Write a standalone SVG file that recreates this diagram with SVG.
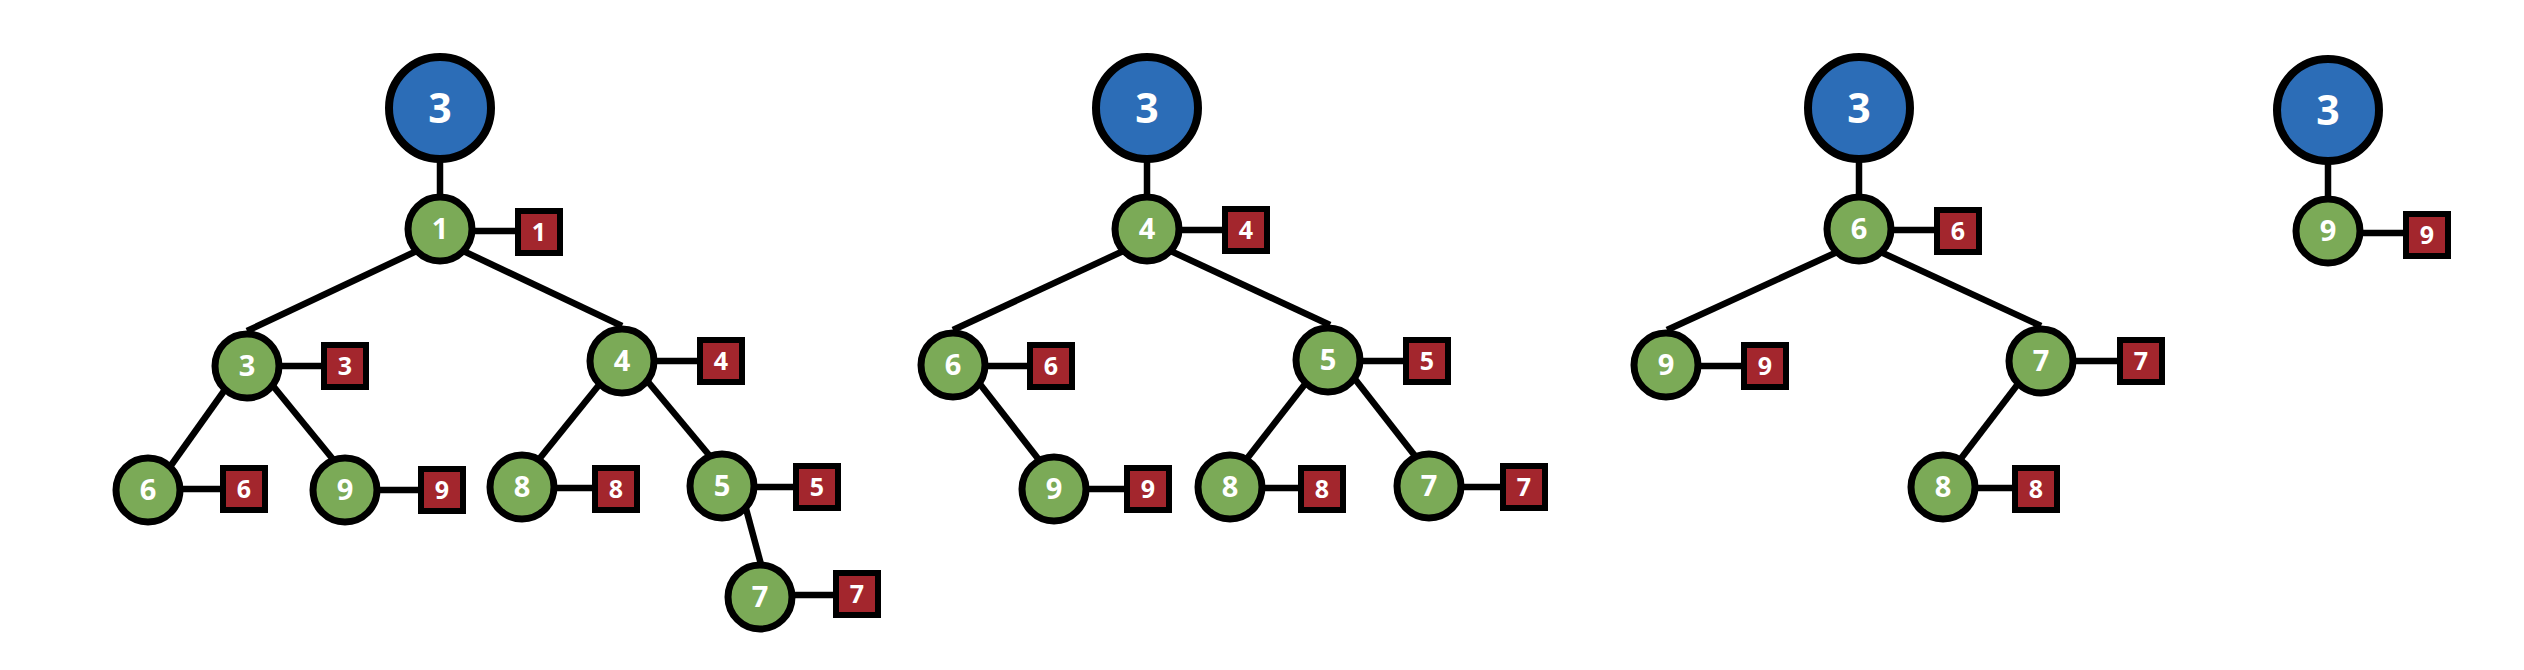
<svg xmlns="http://www.w3.org/2000/svg" width="2524" height="670" viewBox="0 0 2524 670">
<style>
.edge{stroke:#000;stroke-width:6.5;fill:none}
.root circle{fill:#2C6DB7;stroke:#000;stroke-width:8}
.node circle{fill:#7BAA57;stroke:#000;stroke-width:7}
.node rect{fill:#A3262D;stroke:#000;stroke-width:6}
text{font-family:"Open Sans","DejaVu Sans",sans-serif;font-weight:700;fill:#fff;text-anchor:middle}
.rt{font-size:41px}
.ct{font-size:29px}
.st{font-size:25px}
</style>
<rect width="2524" height="670" fill="#fff"/>
<g id="connectors">
<!-- tree 1 -->
<line class="edge" x1="440" y1="108" x2="440" y2="229"/>
<line class="edge" x1="440" y1="240" x2="247" y2="331"/>
<line class="edge" x1="440" y1="240" x2="622" y2="326"/>
<line class="edge" x1="229" y1="384" x2="167" y2="471"/>
<line class="edge" x1="269" y1="381" x2="336" y2="463"/>
<line class="edge" x1="603" y1="380" x2="536" y2="463"/>
<line class="edge" x1="644" y1="377" x2="714" y2="461"/>
<line class="edge" x1="745" y1="505" x2="762" y2="568"/>
<line class="edge" x1="440" y1="231" x2="539" y2="231"/>
<line class="edge" x1="247" y1="366" x2="345" y2="366"/>
<line class="edge" x1="622" y1="361" x2="721" y2="361"/>
<line class="edge" x1="148" y1="489" x2="244" y2="489"/>
<line class="edge" x1="345" y1="490" x2="442" y2="490"/>
<line class="edge" x1="522" y1="488" x2="616" y2="488"/>
<line class="edge" x1="722" y1="487" x2="817" y2="487"/>
<line class="edge" x1="760" y1="595" x2="857" y2="595"/>
<!-- tree 2 -->
<line class="edge" x1="1147" y1="108" x2="1147" y2="229"/>
<line class="edge" x1="1147" y1="240" x2="953" y2="330"/>
<line class="edge" x1="1147" y1="240" x2="1330" y2="325"/>
<line class="edge" x1="976" y1="379" x2="1043" y2="465"/>
<line class="edge" x1="1309" y1="379" x2="1242" y2="465"/>
<line class="edge" x1="1351" y1="374" x2="1419" y2="461"/>
<line class="edge" x1="1147" y1="230" x2="1246" y2="230"/>
<line class="edge" x1="953" y1="366" x2="1051" y2="366"/>
<line class="edge" x1="1328" y1="361" x2="1427" y2="361"/>
<line class="edge" x1="1054" y1="489" x2="1148" y2="489"/>
<line class="edge" x1="1230" y1="488" x2="1322" y2="488"/>
<line class="edge" x1="1429" y1="487" x2="1524" y2="487"/>
<!-- tree 3 -->
<line class="edge" x1="1859" y1="108" x2="1859" y2="229"/>
<line class="edge" x1="1859" y1="242" x2="1667" y2="330"/>
<line class="edge" x1="1859" y1="242" x2="2041" y2="326"/>
<line class="edge" x1="2021" y1="380" x2="1956" y2="465"/>
<line class="edge" x1="1859" y1="230" x2="1958" y2="230"/>
<line class="edge" x1="1666" y1="366" x2="1765" y2="366"/>
<line class="edge" x1="2041" y1="361" x2="2141" y2="361"/>
<line class="edge" x1="1943" y1="488" x2="2036" y2="488"/>
<!-- tree 4 -->
<line class="edge" x1="2328" y1="109" x2="2328" y2="231"/>
<line class="edge" x1="2328" y1="233" x2="2427" y2="233"/>
</g>

<!-- tree 1 -->
<g id="t1-root" class="root"><circle cx="440" cy="108" r="51"/><text class="rt" x="440" y="123">3</text></g>
<g id="t1-n1" class="node"><circle cx="440" cy="229" r="32"/><text class="ct" x="440" y="239">1</text><rect x="518" y="211" width="42" height="42"/><text class="st" x="539" y="241">1</text></g>
<g id="t1-n3" class="node"><circle cx="247" cy="366" r="32"/><text class="ct" x="247" y="376">3</text><rect x="324" y="345" width="42" height="42"/><text class="st" x="345" y="375">3</text></g>
<g id="t1-n4" class="node"><circle cx="622" cy="361" r="32"/><text class="ct" x="622" y="371">4</text><rect x="700" y="340" width="42" height="42"/><text class="st" x="721" y="370">4</text></g>
<g id="t1-n6" class="node"><circle cx="148" cy="490" r="32"/><text class="ct" x="148" y="500">6</text><rect x="223" y="468" width="42" height="42"/><text class="st" x="244" y="498">6</text></g>
<g id="t1-n9" class="node"><circle cx="345" cy="490" r="32"/><text class="ct" x="345" y="500">9</text><rect x="421" y="469" width="42" height="42"/><text class="st" x="442" y="499">9</text></g>
<g id="t1-n8" class="node"><circle cx="522" cy="487" r="32"/><text class="ct" x="522" y="497">8</text><rect x="595" y="468" width="42" height="42"/><text class="st" x="616" y="498">8</text></g>
<g id="t1-n5" class="node"><circle cx="722" cy="486" r="32"/><text class="ct" x="722" y="496">5</text><rect x="796" y="466" width="42" height="42"/><text class="st" x="817" y="496">5</text></g>
<g id="t1-n7" class="node"><circle cx="760" cy="597" r="32"/><text class="ct" x="760" y="607">7</text><rect x="836" y="573" width="42" height="42"/><text class="st" x="857" y="603">7</text></g>

<!-- tree 2 -->
<g id="t2-root" class="root"><circle cx="1147" cy="108" r="51"/><text class="rt" x="1147" y="123">3</text></g>
<g id="t2-n4" class="node"><circle cx="1147" cy="229" r="32"/><text class="ct" x="1147" y="239">4</text><rect x="1225" y="209" width="42" height="42"/><text class="st" x="1246" y="239">4</text></g>
<g id="t2-n6" class="node"><circle cx="953" cy="365" r="32"/><text class="ct" x="953" y="375">6</text><rect x="1030" y="345" width="42" height="42"/><text class="st" x="1051" y="375">6</text></g>
<g id="t2-n5" class="node"><circle cx="1328" cy="360" r="32"/><text class="ct" x="1328" y="370">5</text><rect x="1406" y="340" width="42" height="42"/><text class="st" x="1427" y="370">5</text></g>
<g id="t2-n9" class="node"><circle cx="1054" cy="489" r="32"/><text class="ct" x="1054" y="499">9</text><rect x="1127" y="468" width="42" height="42"/><text class="st" x="1148" y="498">9</text></g>
<g id="t2-n8" class="node"><circle cx="1230" cy="487" r="32"/><text class="ct" x="1230" y="497">8</text><rect x="1301" y="468" width="42" height="42"/><text class="st" x="1322" y="498">8</text></g>
<g id="t2-n7" class="node"><circle cx="1429" cy="486" r="32"/><text class="ct" x="1429" y="496">7</text><rect x="1503" y="466" width="42" height="42"/><text class="st" x="1524" y="496">7</text></g>

<!-- tree 3 -->
<g id="t3-root" class="root"><circle cx="1859" cy="108" r="51"/><text class="rt" x="1859" y="123">3</text></g>
<g id="t3-n6" class="node"><circle cx="1859" cy="229" r="32"/><text class="ct" x="1859" y="239">6</text><rect x="1937" y="210" width="42" height="42"/><text class="st" x="1958" y="240">6</text></g>
<g id="t3-n9" class="node"><circle cx="1666" cy="365" r="32"/><text class="ct" x="1666" y="375">9</text><rect x="1744" y="345" width="42" height="42"/><text class="st" x="1765" y="375">9</text></g>
<g id="t3-n7" class="node"><circle cx="2041" cy="361" r="32"/><text class="ct" x="2041" y="371">7</text><rect x="2120" y="340" width="42" height="42"/><text class="st" x="2141" y="370">7</text></g>
<g id="t3-n8" class="node"><circle cx="1943" cy="487" r="32"/><text class="ct" x="1943" y="497">8</text><rect x="2015" y="468" width="42" height="42"/><text class="st" x="2036" y="498">8</text></g>

<!-- tree 4 -->
<g id="t4-root" class="root"><circle cx="2328" cy="110" r="51"/><text class="rt" x="2328" y="125">3</text></g>
<g id="t4-n9" class="node"><circle cx="2328" cy="231" r="32"/><text class="ct" x="2328" y="241">9</text><rect x="2406" y="214" width="42" height="42"/><text class="st" x="2427" y="244">9</text></g>
</svg>
